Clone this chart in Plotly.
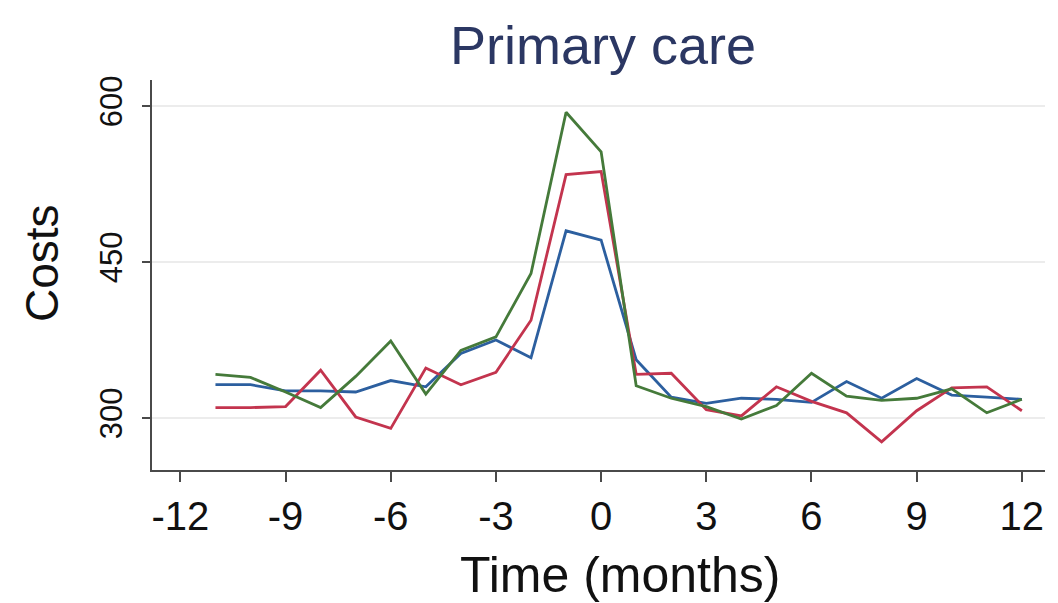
import plotly.graph_objects as go

# Monthly primary care costs around the index month
months = list(range(-11, 13))

costs_blue = [332, 332, 326, 326, 325, 336, 330, 362, 375, 358, 480, 471,
              356, 320, 314, 319, 318, 315, 335, 319, 338, 322, 320, 318]
costs_red = [310, 310, 311, 346, 301, 290, 348, 332, 344, 394, 534, 537,
             342, 343, 308, 302, 330, 316, 305, 277, 307, 329, 330, 307]
costs_green = [342, 339, 325, 310, 340, 374, 323, 365, 378, 439, 594, 556,
               331, 319, 311, 299, 312, 343, 321, 317, 319, 328, 305, 318]

x_ticks = [-12, -9, -6, -3, 0, 3, 6, 9, 12]
y_ticks = [300, 450, 600]

series = [
    (costs_blue, "#2c5f9f"),
    (costs_red, "#c3344e"),
    (costs_green, "#457a3a"),
]

FONT = "Liberation Sans, Arial, Helvetica, sans-serif"

fig = go.Figure()
for values, color in series:
    fig.add_trace(go.Scatter(
        x=months, y=values, mode="lines",
        line=dict(color=color, width=2.8),
        showlegend=False, hoverinfo="skip",
    ))

fig.update_layout(
    width=1058, height=603,
    margin=dict(l=152, r=13, t=80, b=133),
    paper_bgcolor="white", plot_bgcolor="white",
    font=dict(family=FONT, color="#111111"),
    title=dict(
        text="Primary care", x=0.57, xanchor="center",
        y=1 - 45 / 603, yanchor="middle", yref="container",
        font=dict(size=54, color="#2b3763", family=FONT),
    ),
    xaxis=dict(
        range=[-12.81, 12.66], tickmode="array", tickvals=x_ticks,
        ticktext=[str(v) for v in x_ticks],
        showgrid=False, zeroline=False,
        showline=True, linecolor="#4a4a4a", linewidth=2,
        ticks="outside", ticklen=10, tickwidth=2, tickcolor="#4a4a4a",
        tickfont=dict(size=40, color="#111111"),
    ),
    yaxis=dict(
        range=[250, 625], tickmode="array", tickvals=y_ticks,
        ticktext=[str(v) for v in y_ticks], tickangle=-90,
        showgrid=True, gridcolor="#ececec", gridwidth=2, zeroline=False,
        showline=True, linecolor="#4a4a4a", linewidth=2,
        ticks="outside", ticklen=8, tickwidth=2, tickcolor="#4a4a4a",
        ticklabelstandoff=8,
        tickfont=dict(size=31, color="#111111"),
    ),
    annotations=[
        dict(text="Time (months)", xref="paper", yref="paper",
             x=(620 - 152) / 893, y=(470 - 575) / 390,
             xanchor="center", yanchor="middle", showarrow=False,
             font=dict(size=50, color="#111111", family=FONT)),
        dict(text="Costs", xref="paper", yref="paper",
             x=(42 - 152) / 893, y=(470 - 263) / 390, textangle=-90,
             xanchor="center", yanchor="middle", showarrow=False,
             font=dict(size=46, color="#111111", family=FONT)),
    ],
)

fig.write_html("out.html")
